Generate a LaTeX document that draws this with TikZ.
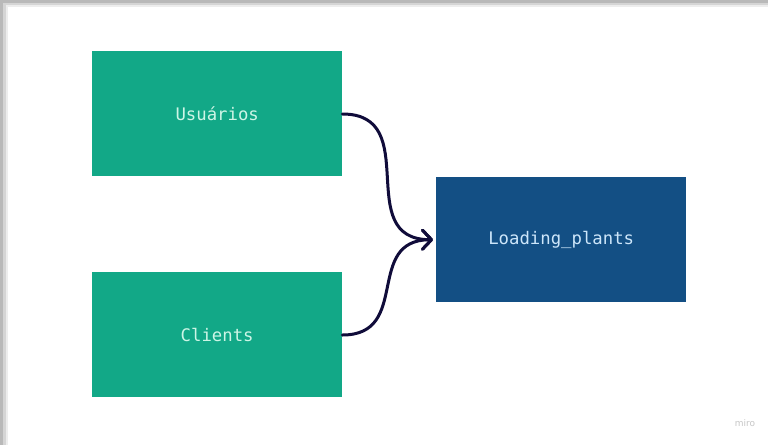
\documentclass[tikz,border=0pt]{standalone}
\usepackage{fontspec}
\setmonofont{DejaVu Sans Mono}
\setsansfont{DejaVu Sans}
\usepackage{tikz}
\usetikzlibrary{arrows.meta,positioning}
\definecolor{tablegreen}{RGB}{18,168,135}
\definecolor{tableblue}{RGB}{19,79,132}
\definecolor{greentext}{RGB}{205,245,230}
\definecolor{bluetext}{RGB}{205,230,250}
\definecolor{linknavy}{RGB}{16,12,58}
\definecolor{shadowgray}{RGB}{185,185,185}
\tikzset{
  table/.style={minimum width=250pt,minimum height=125pt,inner sep=0pt,font=\ttfamily\fontsize{17.3}{20}\selectfont},
  entity/.style={table,fill=tablegreen,text=greentext},
  target/.style={table,fill=tableblue,text=bluetext},
  link/.style={-{Straight Barb[length=9pt,width=19pt,round]},line width=3pt,linknavy,line cap=round}
}
\begin{document}
\begin{tikzpicture}[x=1pt,y=-1pt]
\useasboundingbox (0,0) rectangle (768,445);
% frame with shadow
\fill[shadowgray] (0,0) rectangle (768,445);
\fill[shadowgray!60] (3,3) rectangle (768,445);
\fill[shadowgray!25] (6,5) rectangle (768,445);
\fill[white] (8,7) rectangle (768,445);
\node[entity,anchor=north west] (users) at (92,51) {Usuários};
\node[entity,anchor=north west] (clients) at (92,272) {Clients};
\node[target,anchor=north west] (plants) at (436,177) {Loading\_plants};
\draw[link] (users.east |- 0,114) to[out=0,in=180,looseness=1.35] ([xshift=-3pt]plants.west);
\draw[link] (clients.east |- 0,335) to[out=0,in=180,looseness=1.35] ([xshift=-3pt]plants.west);
\node[font=\sffamily\fontsize{9}{10}\selectfont,text=gray!45] (brand) at (745,423) {miro};
\end{tikzpicture}
\end{document}
